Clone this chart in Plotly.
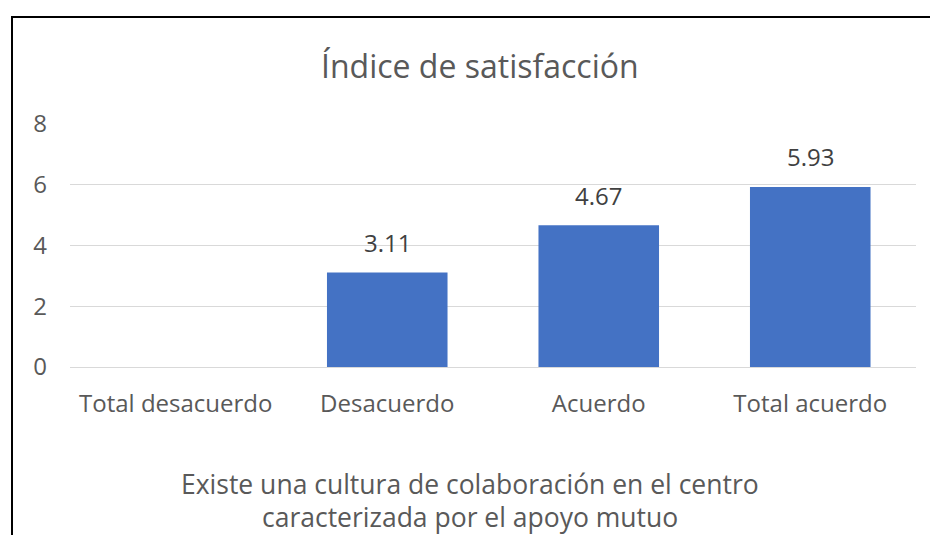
import plotly.graph_objects as go

categories = ["Total desacuerdo", "Desacuerdo", "Acuerdo", "Total acuerdo"]
values = [None, 3.11, 4.67, 5.93]
labels = ["", "3.11", "4.67", "5.93"]
title_text = "Índice de satisfacción"
xtitle_lines = ["Existe una cultura de colaboración en el centro",
                "caracterizada por el apoyo mutuo"]

FONT = "Open Sans"
OFF = 8  # page body margin
W, H = 938 - OFF, 535 - OFF
L, R, T, B = 70 - OFF, 22, 124 - OFF, 168
pw, ph = W - L - R, H - T - B

def px_x(x):
    return (x - OFF - L) / pw

def px_y(y):
    return 1 - (y - OFF - T) / ph

fig = go.Figure()
fig.add_trace(go.Bar(x=categories, y=values, marker_color="#4472C4",
                     marker_line_width=0, hoverinfo="skip"))

ann = []
for c, v, t in zip(categories, values, labels):
    if v is None:
        continue
    ann.append(dict(x=c, y=v, text=t, showarrow=False, yanchor="middle",
                    yshift=30, font=dict(family=FONT, size=24, color="#404040")))

ann.append(dict(xref="paper", yref="paper", x=px_x(480), y=px_y(65),
                text=title_text, showarrow=False, xanchor="center", yanchor="middle",
                font=dict(family=FONT, size=32, color="#595959")))
for i, line in enumerate(xtitle_lines):
    ann.append(dict(xref="paper", yref="paper", x=px_x(470), y=px_y(484 + 33 * i),
                    text=line, showarrow=False, xanchor="center", yanchor="middle",
                    font=dict(family=FONT, size=26.5, color="#595959")))

fig.update_layout(
    width=W, height=H,
    margin=dict(l=L, r=R, t=T, b=B),
    paper_bgcolor="white", plot_bgcolor="white",
    bargap=0.43, showlegend=False,
    annotations=ann,
    shapes=[dict(type="rect", xref="paper", yref="paper",
                 x0=px_x(12), y0=px_y(560), x1=px_x(960), y1=px_y(17),
                 line=dict(color="#000000", width=2), fillcolor="rgba(0,0,0,0)", layer="below")],
)
fig.update_xaxes(showgrid=False, showline=False, ticks="", ticklabelstandoff=20,
                 tickfont=dict(family=FONT, size=24, color="#595959"))
fig.update_yaxes(range=[0, 8], dtick=2, showgrid=True, gridcolor="#D9D9D9", gridwidth=1,
                 zeroline=True, zerolinecolor="#D9D9D9", zerolinewidth=1,
                 showline=False, ticks="", ticklabelstandoff=22,
                 tickfont=dict(family=FONT, size=24, color="#595959"))

fig.write_html("out.html")
